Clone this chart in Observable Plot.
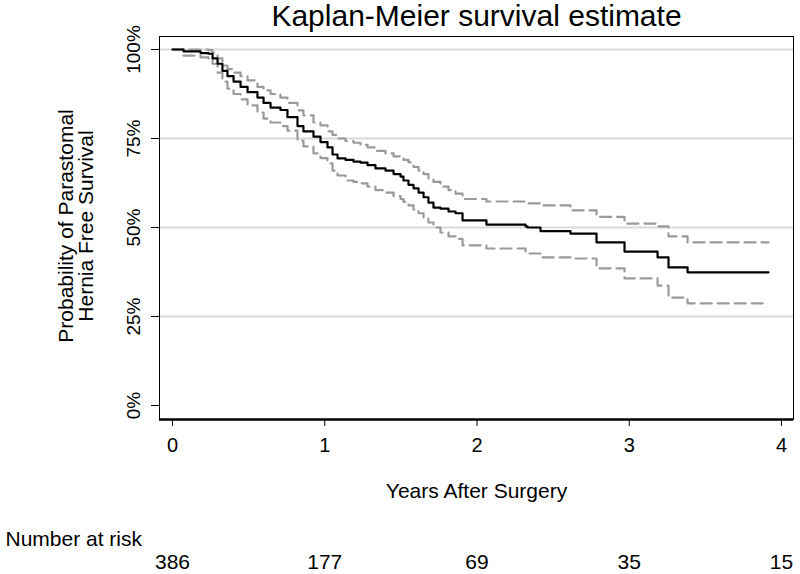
<!DOCTYPE html>
<html><head><meta charset="utf-8">
<script src="https://cdn.jsdelivr.net/npm/d3@7"></script>
<script src="https://cdn.jsdelivr.net/npm/@observablehq/plot@0.6"></script>
<style>body{margin:0;background:#fff}</style>
</head><body><div id="chart"></div>
<script>
const titleText = "Kaplan-Meier survival estimate";
const xLabel = "Years After Surgery";
const yLabel = "Probability of Parastomal\nHernia Free Survival";
const riskLabel = "Number at risk";
const xTicks = [0, 1, 2, 3, 4];
const atRisk = [386, 177, 69, 35, 15];
const yTicks = [0, 25, 50, 75, 100];
const gridLines = [25, 50, 75, 100];

const time = [0, 0.072, 0.184, 0.236, 0.263, 0.296, 0.328, 0.361, 0.401, 0.447, 0.493, 0.558, 0.598, 0.644, 0.709, 0.755, 0.821, 0.860, 0.926, 0.972, 1.018, 1.051, 1.084, 1.136, 1.189, 1.235, 1.281, 1.333, 1.399, 1.452, 1.498, 1.517, 1.550, 1.583, 1.616, 1.649, 1.681, 1.714, 1.760, 1.813, 1.859, 1.905, 2.062, 2.319, 2.332, 2.417, 2.614, 2.785, 2.969, 3.186, 3.258, 3.383, 3.915];
const survival = [100, 99.5, 99, 98.8, 97.5, 96, 94, 92.5, 91, 89.5, 88, 86.5, 85, 83.7, 83, 81, 78.5, 77, 75.5, 74, 72.5, 70.5, 69.4, 69, 68.5, 68.2, 67.5, 66.6, 66, 65, 64.3, 63.2, 62, 61, 59.8, 58.5, 57, 55.6, 55.3, 54.5, 54, 52, 50.8, 50.3, 50, 49, 48.3, 45.8, 43.2, 41.6, 38.8, 37.4, 37.4];
const lowerCI = [100, 98.3, 97.8, 97.5, 96, 93.5, 91, 89, 87.5, 86, 84.3, 82.3, 80.6, 79.5, 78.5, 77.2, 74.4, 72.8, 70.8, 69.5, 68, 66, 64.6, 63.2, 62.8, 62.4, 61.5, 60.5, 59.8, 58.8, 58, 57.2, 56.2, 55, 54, 52.8, 51.4, 50, 48.6, 47.5, 46.8, 45, 44.1, 43, 42.7, 41.6, 41.3, 38.5, 35.7, 33.7, 30.3, 28.7, 28.7];
const upperCI = [100, 100, 100, 99.8, 99, 97.5, 95.5, 94.5, 93.5, 92.5, 91.3, 89.5, 88.5, 87.5, 86.5, 85, 82.9, 81.5, 79.5, 78.7, 77, 76, 75, 74.3, 73.8, 73.2, 72.5, 71.5, 70.8, 70, 69.7, 69, 68.3, 67, 66, 65, 63.8, 62.8, 61.5, 60.5, 59.5, 58, 57.3, 57, 56.8, 56.2, 54.8, 53, 51.1, 50.3, 47.5, 45.8, 45.8];

const rows = time.map((t, i) => ({t, s: survival[i], lo: lowerCI[i], hi: upperCI[i]}));
const riskRows = xTicks.map((t, i) => ({t, n: atRisk[i]}));
const xDomain = [-0.0854, 4.0788];
const yDomain = [-3.93, 103.65];

const chart = Plot.plot({
  width: 800,
  height: 574,
  marginTop: 36,
  marginBottom: 155,
  marginLeft: 159,
  marginRight: 7,
  style: {fontFamily: "'Liberation Sans', Arial, sans-serif", fontSize: "20px", background: "white", color: "black"},
  x: {domain: xDomain, axis: null},
  y: {domain: yDomain, axis: null},
  marks: [
    Plot.ruleY(gridLines, {stroke: "#dadada", strokeWidth: 2}),
    Plot.line(rows, {x: "t", y: "lo", curve: "step-after", stroke: "#9a9a9a", strokeWidth: 2.2, strokeDasharray: "11,6"}),
    Plot.line(rows, {x: "t", y: "hi", curve: "step-after", stroke: "#9a9a9a", strokeWidth: 2.2, strokeDasharray: "11,6"}),
    Plot.line(rows, {x: "t", y: "s", curve: "step-after", stroke: "black", strokeWidth: 2.2}),
    Plot.frame({stroke: "black", strokeWidth: 1}),
    Plot.ruleY([yDomain[0]], {stroke: "black", strokeWidth: 2.5}),
    Plot.axisX({ticks: xTicks, tickSize: 7, tickPadding: 11, tickFormat: d => String(d), fontSize: 20, label: null}),
    Plot.axisY({ticks: yTicks, tickSize: 8, tickFormat: () => "", label: null}),
    Plot.text(yTicks, {y: d => d, text: d => d + "%", rotate: -90, frameAnchor: "left", textAnchor: "middle", dx: -26, fontSize: 19}),
    Plot.text([yLabel], {text: d => d, rotate: -90, frameAnchor: "left", textAnchor: "middle", dx: -83, dy: -2, fontSize: 21, lineHeight: 0.95}),
    Plot.text([titleText], {text: d => d, frameAnchor: "top", textAnchor: "middle", dy: -11, lineAnchor: "bottom", fontSize: 30}),
    Plot.text([xLabel], {text: d => d, frameAnchor: "bottom", textAnchor: "middle", dy: 78, lineAnchor: "bottom", fontSize: 21}),
    Plot.text([riskLabel], {text: d => d, frameAnchor: "bottom-left", textAnchor: "start", dx: -154, dy: 126, lineAnchor: "bottom", fontSize: 21}),
    Plot.text(riskRows, {x: "t", text: "n", frameAnchor: "bottom", textAnchor: "middle", dy: 149, lineAnchor: "bottom", fontSize: 21})
  ]
});
document.getElementById("chart").appendChild(chart);
</script></body></html>
